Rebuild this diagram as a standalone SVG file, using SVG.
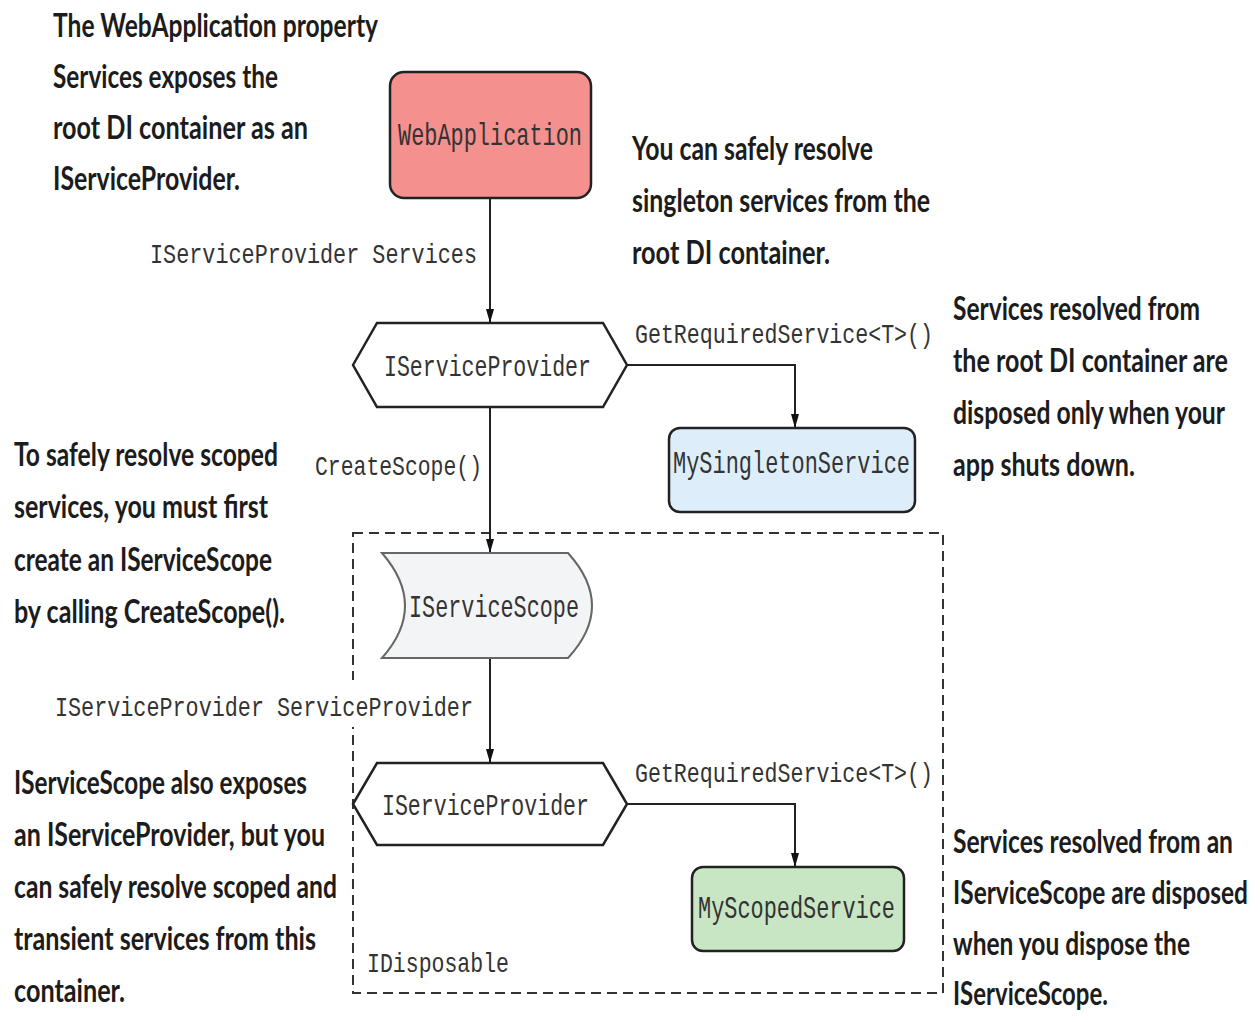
<svg xmlns="http://www.w3.org/2000/svg" width="1260" height="1022" viewBox="0 0 1260 1022">
<style>
.note{font-family:Lato,"Open Sans","Liberation Sans",sans-serif;font-weight:700;font-size:25px;fill:#1c1c1c}
.mono{font-family:"Liberation Mono","DejaVu Sans Mono",monospace;fill:#333;font-size:22px}
.box{stroke:#222;stroke-width:2.5}
.con{fill:none;stroke:#222;stroke-width:2}
</style>
<defs>
<marker id="arr" viewBox="0 0 10 10" refX="10" refY="5" markerWidth="14" markerHeight="8" orient="auto" markerUnits="userSpaceOnUse" preserveAspectRatio="none"><path d="M0,0 L10,5 L0,10 z" fill="#111"/></marker>
</defs>
<rect width="1260" height="1022" fill="#fff"/>

<g id="scope-boundary">
<rect x="353" y="533" width="590" height="460" fill="none" stroke="#333" stroke-width="2" stroke-dasharray="10 6"/>
</g>

<g id="connectors">
<line class="con" x1="490" y1="199" x2="490" y2="323" marker-end="url(#arr)"/>
<polyline class="con" points="627,365 795,365 795,428" marker-end="url(#arr)"/>
<line class="con" x1="490" y1="407" x2="490" y2="553" marker-end="url(#arr)"/>
<line class="con" x1="490" y1="658" x2="490" y2="763" marker-end="url(#arr)"/>
<polyline class="con" points="627,804 795,804 795,867" marker-end="url(#arr)"/>
<text class="mono" transform="translate(150,263) scale(1,1.27)" textLength="327" lengthAdjust="spacingAndGlyphs">IServiceProvider Services</text>
<text class="mono" transform="translate(635,343) scale(1,1.27)" textLength="298" lengthAdjust="spacingAndGlyphs">GetRequiredService&lt;T&gt;()</text>
<text class="mono" transform="translate(315,475) scale(1,1.27)" textLength="167" lengthAdjust="spacingAndGlyphs">CreateScope()</text>
<rect x="52" y="680" width="424" height="47" fill="#fff"/>
<text class="mono" transform="translate(55,716) scale(1,1.27)" textLength="418" lengthAdjust="spacingAndGlyphs">IServiceProvider ServiceProvider</text>
<text class="mono" transform="translate(635,782) scale(1,1.27)" textLength="298" lengthAdjust="spacingAndGlyphs">GetRequiredService&lt;T&gt;()</text>
<text class="mono" transform="translate(367,972) scale(1,1.27)" textLength="142" lengthAdjust="spacingAndGlyphs">IDisposable</text>
</g>

<g id="webapplication">
<rect class="box" x="390" y="72" width="201" height="126" rx="14" fill="#f4908e"/>
<text class="mono" transform="translate(398,145) scale(1,1.42)" textLength="184" lengthAdjust="spacingAndGlyphs">WebApplication</text>
</g>

<g id="root-provider">
<polygon class="box" points="353,365 377,323 603,323 627,365 603,407 377,407" fill="#fff"/>
<text class="mono" transform="translate(384,376) scale(1,1.38)" textLength="207" lengthAdjust="spacingAndGlyphs">IServiceProvider</text>
</g>

<g id="singleton-service">
<rect class="box" x="669" y="428" width="246" height="84" rx="11" fill="#ddeefa"/>
<text class="mono" transform="translate(673,473) scale(1,1.42)" textLength="237" lengthAdjust="spacingAndGlyphs">MySingletonService</text>
</g>

<g id="service-scope">
<path d="M382,553 L568,553 Q616,606 568,658 L382,658 Q428,606 382,553 Z" fill="#f3f4f6" stroke="#666" stroke-width="2"/>
<text class="mono" transform="translate(409,617) scale(1,1.42)" textLength="170" lengthAdjust="spacingAndGlyphs">IServiceScope</text>
</g>

<g id="scoped-provider">
<polygon class="box" points="353,804 377,763 603,763 627,804 603,845 377,845" fill="#fff"/>
<text class="mono" transform="translate(382,815) scale(1,1.38)" textLength="207" lengthAdjust="spacingAndGlyphs">IServiceProvider</text>
</g>

<g id="scoped-service">
<rect class="box" x="692" y="867" width="212" height="84" rx="11" fill="#c8e6c4"/>
<text class="mono" transform="translate(698,918) scale(1,1.42)" textLength="197" lengthAdjust="spacingAndGlyphs">MyScopedService</text>
</g>

<g id="notes">
<text class="note" transform="translate(53,37) scale(1,1.28)" textLength="325" lengthAdjust="spacingAndGlyphs">The WebApplication property</text>
<text class="note" transform="translate(53,88) scale(1,1.28)" textLength="225" lengthAdjust="spacingAndGlyphs">Services exposes the</text>
<text class="note" transform="translate(53,139) scale(1,1.28)" textLength="255" lengthAdjust="spacingAndGlyphs">root DI container as an</text>
<text class="note" transform="translate(53,190) scale(1,1.28)" textLength="187" lengthAdjust="spacingAndGlyphs">IServiceProvider.</text>

<text class="note" transform="translate(632,160) scale(1,1.28)" textLength="241" lengthAdjust="spacingAndGlyphs">You can safely resolve</text>
<text class="note" transform="translate(632,212) scale(1,1.28)" textLength="298" lengthAdjust="spacingAndGlyphs">singleton services from the</text>
<text class="note" transform="translate(632,264) scale(1,1.28)" textLength="198" lengthAdjust="spacingAndGlyphs">root DI container.</text>

<text class="note" transform="translate(953,320) scale(1,1.28)" textLength="247" lengthAdjust="spacingAndGlyphs">Services resolved from</text>
<text class="note" transform="translate(953,372) scale(1,1.28)" textLength="275" lengthAdjust="spacingAndGlyphs">the root DI container are</text>
<text class="note" transform="translate(953,424) scale(1,1.28)" textLength="272" lengthAdjust="spacingAndGlyphs">disposed only when your</text>
<text class="note" transform="translate(953,476) scale(1,1.28)" textLength="182" lengthAdjust="spacingAndGlyphs">app shuts down.</text>

<text class="note" transform="translate(14,466) scale(1,1.28)" textLength="264" lengthAdjust="spacingAndGlyphs">To safely resolve scoped</text>
<text class="note" transform="translate(14,518) scale(1,1.28)" textLength="254" lengthAdjust="spacingAndGlyphs">services, you must first</text>
<text class="note" transform="translate(14,571) scale(1,1.28)" textLength="258" lengthAdjust="spacingAndGlyphs">create an IServiceScope</text>
<text class="note" transform="translate(14,623) scale(1,1.28)" textLength="271" lengthAdjust="spacingAndGlyphs">by calling CreateScope().</text>

<text class="note" transform="translate(14,794) scale(1,1.28)" textLength="293" lengthAdjust="spacingAndGlyphs">IServiceScope also exposes</text>
<text class="note" transform="translate(14,846) scale(1,1.28)" textLength="311" lengthAdjust="spacingAndGlyphs">an IServiceProvider, but you</text>
<text class="note" transform="translate(14,898) scale(1,1.28)" textLength="323" lengthAdjust="spacingAndGlyphs">can safely resolve scoped and</text>
<text class="note" transform="translate(14,950) scale(1,1.28)" textLength="302" lengthAdjust="spacingAndGlyphs">transient services from this</text>
<text class="note" transform="translate(14,1002) scale(1,1.28)" textLength="111" lengthAdjust="spacingAndGlyphs">container.</text>

<text class="note" transform="translate(953,853) scale(1,1.28)" textLength="280" lengthAdjust="spacingAndGlyphs">Services resolved from an</text>
<text class="note" transform="translate(953,904) scale(1,1.28)" textLength="295" lengthAdjust="spacingAndGlyphs">IServiceScope are disposed</text>
<text class="note" transform="translate(953,955) scale(1,1.28)" textLength="237" lengthAdjust="spacingAndGlyphs">when you dispose the</text>
<text class="note" transform="translate(953,1005) scale(1,1.28)" textLength="155" lengthAdjust="spacingAndGlyphs">IServiceScope.</text>
</g>
</svg>
